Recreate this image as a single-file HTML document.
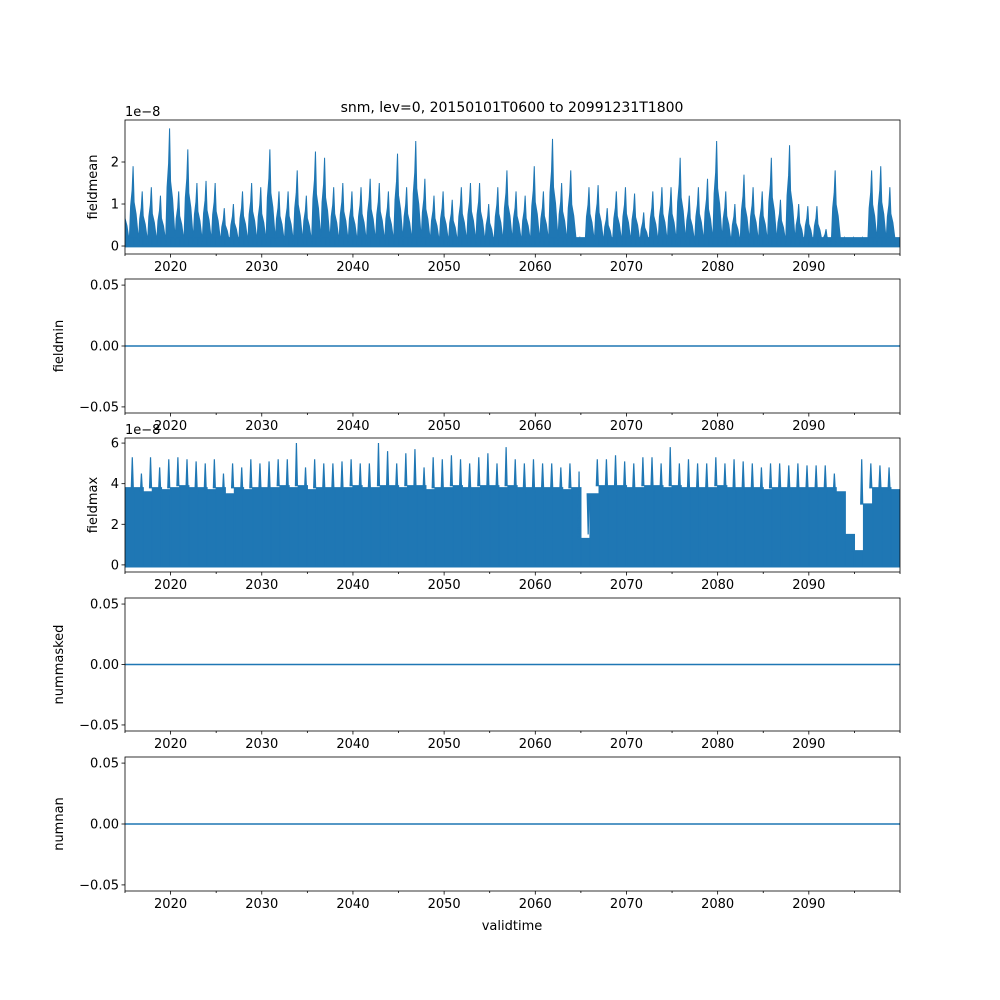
<!DOCTYPE html>
<html><head><meta charset="utf-8"><style>
body{margin:0;background:#fff}
svg{display:block;font-family:"DejaVu Sans","Liberation Sans",sans-serif}
</style></head><body>
<svg id="fig" width="1000" height="1000" viewBox="0 0 1000 1000"></svg>
<script>
const years=[];for(let y=2015;y<=2099;y++)years.push(y);
const meanPeak=[1.2,1.9,1.3,1.4,1.2,2.8,1.3,2.3,1.5,1.55,1.5,0.9,1.0,1.3,1.5,1.4,2.3,1.3,1.3,1.8,1.2,2.25,2.1,1.4,1.5,1.3,1.4,1.6,1.5,1.3,2.2,1.4,2.5,1.6,1.2,1.3,1.1,1.4,1.5,1.5,1.0,1.4,1.8,1.3,1.2,1.9,1.3,2.55,1.5,1.8,0.2,1.4,1.45,0.9,1.3,1.4,1.25,0.8,1.3,1.4,1.4,2.1,1.2,1.4,1.6,2.5,1.3,1.0,1.7,1.4,1.3,2.1,1.1,2.4,1.0,0.95,0.95,0.4,1.8,0.2,0.2,0.2,1.8,1.9,1.4];
const maxPeak=[5.3,5.3,4.5,5.3,4.8,5.2,5.3,5.2,5.1,5.0,5.2,4.5,5.0,4.8,5.2,5.0,5.1,5.2,5.2,6.0,4.8,5.2,5.0,5.0,5.1,5.2,5.0,5.0,6.0,5.6,5.0,5.5,5.7,4.8,5.3,5.2,5.4,5.2,5.0,5.3,5.5,5.0,5.8,5.2,5.0,5.2,5.0,5.0,4.8,5.0,4.6,1.5,5.2,5.2,5.4,5.1,5.0,5.3,5.3,5.0,5.8,5.0,5.2,5.0,5.0,5.3,5.0,5.2,5.1,5.0,4.8,5.0,5.0,4.9,5.0,4.9,4.9,4.9,4.5,2.0,1.2,5.2,5.0,4.9,4.8];
const maxFill=[3.8,3.8,3.6,3.8,3.7,3.8,3.9,3.8,3.8,3.7,3.8,3.5,3.8,3.7,3.8,3.8,3.8,3.9,3.8,3.9,3.7,3.8,3.8,3.8,3.8,3.9,3.8,3.8,3.9,3.9,3.8,3.9,3.9,3.7,3.8,3.8,3.9,3.8,3.8,3.9,3.9,3.8,3.9,3.8,3.8,3.8,3.8,3.8,3.7,3.8,1.3,3.5,3.9,3.9,3.9,3.8,3.8,3.9,3.9,3.8,3.9,3.8,3.8,3.8,3.8,3.9,3.8,3.8,3.8,3.8,3.7,3.8,3.8,3.8,3.8,3.8,3.8,3.8,3.6,1.5,0.7,3.0,3.8,3.8,3.7];
const xTicks=[2020,2030,2040,2050,2060,2070,2080,2090];
const C='#1f77b4',NS='http://www.w3.org/2000/svg',svg=document.getElementById('fig');
const L=125,R=900;
const xs=t=>L+(t-2015)*(R-L)/85;
function el(tag,a,p){const e=document.createElementNS(NS,tag);for(const k in a)e.setAttribute(k,a[k]);(p||svg).appendChild(e);return e;}
function txt(s,a,p){const e=el('text',a,p);e.textContent=s;return e;}
const panels=[
 {name:'fieldmean',top:120,bot:254,ymin:-0.19,ymax:3.0,ticks:[0,1,2],off:'1e\u22128'},
 {name:'fieldmin',top:279,bot:413,ymin:-0.055,ymax:0.055,ticks:[-0.05,0,0.05],fmt:v=>v.toFixed(2).replace('-','\u2212')},
 {name:'fieldmax',top:438,bot:572,ymin:-0.35,ymax:6.25,ticks:[0,2,4,6],off:'1e\u22128'},
 {name:'nummasked',top:598,bot:731,ymin:-0.055,ymax:0.055,ticks:[-0.05,0,0.05],fmt:v=>v.toFixed(2).replace('-','\u2212')},
 {name:'numnan',top:757,bot:891,ymin:-0.055,ymax:0.055,ticks:[-0.05,0,0.05],fmt:v=>v.toFixed(2).replace('-','\u2212')}];
const title=txt('snm, lev=0, 20150101T0600 to 20991231T1800',{x:512,y:112,'text-anchor':'middle','font-size':14});

panels.forEach((p,i)=>{
 const g=el('g',{});
 
 const ys=v=>p.bot-(v-p.ymin)*(p.bot-p.top)/(p.ymax-p.ymin);
 const cp=el('clipPath',{id:'c'+i},g);el('rect',{x:L,y:p.top,width:R-L,height:p.bot-p.top},cp);
 const d=el('g',{'clip-path':'url(#c'+i+')'},g);
 
 if(i===0){
  let path='';
  years.forEach((y,k)=>{
   const pk=meanPeak[k],b=Math.min(0.2,pk);
   path+=`M${xs(y)},${ys(-0.02)}L${xs(y)},${ys(b)}L${xs(y+1)},${ys(b)}L${xs(y+1)},${ys(-0.02)}Z`;
   const xa=xs(y-0.55);
   path+=`M${xa},${ys(0)}L${xa+1.5},${ys(pk*0.5)}L${xa+3},${ys(pk*0.7)}L${xa+4},${ys(pk)}L${xa+5},${ys(pk*0.55)}L${xa+7},${ys(pk*0.4)}L${xa+10},${ys(0)}Z`;
  });
  el('path',{d:path,fill:C,stroke:C,'stroke-width':1},d);
 } else if(i===2){
  let path='';
  years.forEach((y,k)=>{
   path+=`M${xs(y)},${ys(-0.1)}L${xs(y)},${ys(maxFill[k])}L${xs(y+1)},${ys(maxFill[k])}L${xs(y+1)},${ys(-0.1)}Z`;
   const xp=xs(y-0.2);
   path+=`M${xp-1},${ys(maxFill[k])}L${xp},${ys(maxPeak[k])}L${xp+1},${ys(maxFill[k])}Z`;
  });
  el('path',{d:path,fill:C,stroke:C,'stroke-width':1.2},d);
 } else {
  el('line',{x1:L,x2:R,y1:ys(0),y2:ys(0),stroke:C,'stroke-width':1.5},d);
 }
 el('rect',{x:L,y:p.top,width:R-L,height:p.bot-p.top,fill:'none',stroke:'#000','stroke-width':0.8},g);
 const xa=el('g',{},g);
 for(let t=2015;t<=2100;t+=5){
  const major=xTicks.includes(t);
  el('line',{x1:xs(t),x2:xs(t),y1:p.bot,y2:p.bot+(major?3.5:2),stroke:'#000','stroke-width':0.8},xa);
 }
 xTicks.forEach(t=>txt(String(t),{x:xs(t),y:p.bot+17,'text-anchor':'middle','font-size':13},xa));
 const ya=el('g',{},g);
 p.ticks.forEach(v=>{
  el('line',{x1:L-3.5,x2:L,y1:ys(v),y2:ys(v),stroke:'#000','stroke-width':0.8},ya);
  txt(p.fmt?p.fmt(v):String(v),{x:L-6,y:ys(v)+4.5,'text-anchor':'end','font-size':13},ya);
 });
 if(p.off)txt(p.off,{x:L,y:p.top-4,'font-size':13},ya);
 const lab=txt(p.name,{x:0,y:0,'text-anchor':'middle','font-size':13,transform:`translate(${p.fmt?63:97},${(p.top+p.bot)/2}) rotate(-90)`},g);
 
});
const xl=txt('validtime',{x:512,y:930,'text-anchor':'middle','font-size':13});

</script>
</body></html>
